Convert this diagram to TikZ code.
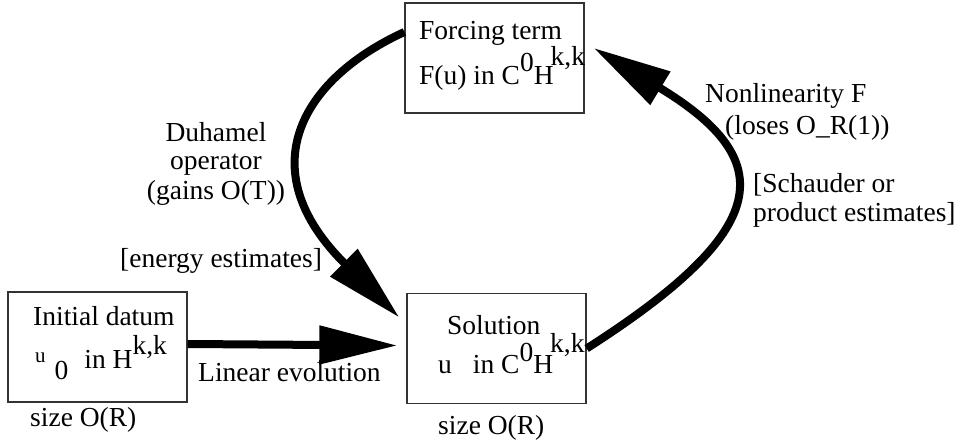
\documentclass[tikz,border=0pt]{standalone}
\usepackage{fontspec}
\setmainfont{Liberation Serif}
\usetikzlibrary{arrows.meta,positioning}

\begin{document}
\begin{tikzpicture}[
        x=1pt, y=-1pt,
        box/.style={
            draw=black!80,
            line width=1.3pt,
            minimum width=179pt,
            minimum height=110pt,
            inner sep=0pt
        },
        txt/.style={
            font=\fontsize{27.5}{30}\selectfont,
            inner sep=0pt,
            anchor=base west
        },
        ctxt/.style={
            font=\fontsize{27.5}{30}\selectfont,
            inner sep=0pt,
            anchor=base
        },
        flow/.style={-{Triangle[length=78pt, width=37pt]}, line width=8pt, draw=black}
    ]
        \useasboundingbox (0,0) rectangle (967,443);

        % boxes
        \node[box] (force) at (494.5,58) {};
        \node[box] (init) at (97.5,347) {};
        \node[box] (sol) at (496.5,348.5) {};

        % box texts
        \node[txt] (forceA) at (419,40) {Forcing term};
        \node[txt] (forceB) at (419,85) {F(u) in C\raisebox{13pt}{0}H\kern-3pt\raisebox{19pt}{k,k}};
        \node[txt] (initA) at (33,326) {Initial datum};
        \node[txt] (initB) at (35,369) {\raisebox{6pt}{\fontsize{21}{21}\selectfont u}\hspace{9pt}\raisebox{-11pt}{0}\hspace{16pt}in H\raisebox{14pt}{k,k}};
        \node[txt] (solA) at (447,335) {Solution};
        \node[txt] (solB) at (438,374) {u\hspace{21pt}in C\raisebox{12pt}{0}H\kern-3pt\raisebox{21pt}{k,k}};
        \node[txt] (initSize) at (30,427) {size O(R)};
        \node[txt] (solSize) at (438,435) {size O(R)};

        % edge labels
        \node[txt] (linLbl) at (198,382) {Linear evolution};
        \node[ctxt] (duhA) at (216,142) {Duhamel};
        \node[ctxt] (duhB) at (216,170) {operator};
        \node[ctxt] (duhC) at (216,200) {(gains O(T))};
        \node[txt] (duhD) at (120,268) {[energy estimates]};
        \node[txt] (nonA) at (705,103) {Nonlinearity F};
        \node[txt] (nonB) at (725,135) {(loses O\_R(1))};
        \node[txt] (nonC) at (753,193) {[Schauder or};
        \node[txt] (nonD) at (753,222) {product estimates]};

        % connectors
        \draw[flow] ([yshift=3pt]init.east) -- ([xshift=-9pt,yshift=3pt]sol.west);
        \draw[flow] ([yshift=26pt]force.west) .. controls (300,80) and (250,170) .. ([xshift=-7pt,yshift=31pt]sol.west);
        \draw[flow] (sol.east) .. controls (772,230) and (781,161) .. ([xshift=9pt,yshift=10pt]force.east);
    \end{tikzpicture}
\end{document}
